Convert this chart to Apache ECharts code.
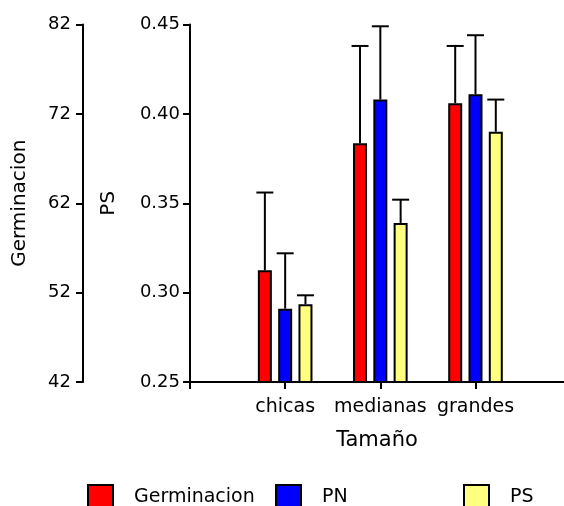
<!DOCTYPE html>
<html><head><meta charset="utf-8">
<script src="https://cdn.jsdelivr.net/npm/echarts@6/dist/echarts.min.js"></script>
<style>html,body{margin:0;padding:0;background:#fff}#c{width:564px;height:506px}</style>
</head><body><div id="c"></div>
<script>
var categories = ['chicas', 'medianas', 'grandes'];
var germinacion = [54.5, 68.7, 73.2];
var germinacionErr = [8.7, 10.9, 6.4];
var pn = [0.291, 0.408, 0.411];
var pnErr = [0.031, 0.041, 0.033];
var ps = [0.2935, 0.339, 0.390];
var psErr = [0.005, 0.013, 0.018];
var germTicks = [42, 52, 62, 72, 82];
var psTicks = [0.25, 0.30, 0.35, 0.40, 0.45];

var FONT = 'DejaVu Sans, Liberation Sans, Arial, sans-serif';
var BAR_W = 14, BAR_GAP = 0.45, CAP = 17;
var step = BAR_W * (1 + BAR_GAP);
var offsets = [-step, 0, step];

function pts(vals) { return vals.map(function (v, i) { return [i + 1, v]; }); }
function errData(vals, errs) { return vals.map(function (v, i) { return [i + 1, v, v + errs[i]]; }); }
function errSeries(vals, errs, yIdx, k) {
  return {
    type: 'custom', yAxisIndex: yIdx, z: 5, silent: true,
    data: errData(vals, errs),
    renderItem: function (params, api) {
      var p0 = api.coord([api.value(0), api.value(1)]);
      var p1 = api.coord([api.value(0), api.value(2)]);
      var x = p0[0] + offsets[k];
      var st = { stroke: '#000', lineWidth: 2 };
      return { type: 'group', children: [
        { type: 'line', shape: { x1: x, y1: p0[1], x2: x, y2: p1[1] }, style: st },
        { type: 'line', shape: { x1: x - CAP / 2, y1: p1[1], x2: x + CAP / 2, y2: p1[1] }, style: st }
      ]};
    }
  };
}
var axisLineStyle = { lineStyle: { color: '#000', width: 2 } };
var legendBase = function (name, left) {
  return { data: [name], left: left, top: 484, padding: 0, itemWidth: 25, itemHeight: 24, icon: 'rect',
    textStyle: { fontSize: 19, fontFamily: FONT, color: '#000', padding: [0, 0, 0, 16] } };
};
var chart = echarts.init(document.getElementById('c'));
chart.setOption({
  animation: false,
  textStyle: { fontFamily: FONT },
  grid: { left: 190, right: 0, top: 24.5, bottom: 124, containLabel: false },
  legend: [legendBase('Germinacion', 87), legendBase('PN', 275), legendBase('PS', 463)],
  xAxis: {
    type: 'value', min: 0, max: 3.93, interval: 1,
    name: 'Tamaño', nameLocation: 'middle', nameGap: 48,
    nameTextStyle: { fontSize: 21, color: '#000', fontFamily: FONT },
    axisLine: axisLineStyle, axisTick: { length: 7, lineStyle: { color: '#000', width: 2 } },
    splitLine: { show: false },
    axisLabel: { fontSize: 19, color: '#000', fontFamily: FONT, margin: 16, showMaxLabel: false,
      formatter: function (v) { return categories[Math.round(v) - 1] || ''; } }
  },
  yAxis: [
    { type: 'value', position: 'left', offset: 0, min: psTicks[0], max: psTicks[psTicks.length - 1], interval: 0.05,
      name: 'PS', nameLocation: 'middle', nameGap: 71, nameRotate: 90,
      nameTextStyle: { fontSize: 20, color: '#000', fontFamily: FONT },
      axisLine: { show: true, lineStyle: { color: '#000', width: 2 } },
      axisTick: { show: true, length: 7, lineStyle: { color: '#000', width: 2 } },
      splitLine: { show: false },
      axisLabel: { fontSize: 18, color: '#000', fontFamily: FONT, margin: 10, formatter: function (v) { return v.toFixed(2); } } },
    { type: 'value', position: 'left', offset: 107, min: germTicks[0], max: germTicks[germTicks.length - 1], interval: 10,
      name: 'Germinacion', nameLocation: 'middle', nameGap: 53, nameRotate: 90,
      nameTextStyle: { fontSize: 20, color: '#000', fontFamily: FONT },
      axisLine: { show: true, lineStyle: { color: '#000', width: 2 } },
      axisTick: { show: true, length: 7, lineStyle: { color: '#000', width: 2 } },
      splitLine: { show: false },
      axisLabel: { fontSize: 18, color: '#000', fontFamily: FONT, margin: 12 } }
  ],
  series: [
    { name: 'Germinacion', type: 'bar', yAxisIndex: 1, data: pts(germinacion), barWidth: BAR_W, barGap: (BAR_GAP * 100) + '%',
      itemStyle: { color: '#FF0000', borderColor: '#000', borderWidth: 2 } },
    { name: 'PN', type: 'bar', yAxisIndex: 0, data: pts(pn), barWidth: BAR_W, barGap: (BAR_GAP * 100) + '%',
      itemStyle: { color: '#0000FF', borderColor: '#000', borderWidth: 2 } },
    { name: 'PS', type: 'bar', yAxisIndex: 0, data: pts(ps), barWidth: BAR_W, barGap: (BAR_GAP * 100) + '%',
      itemStyle: { color: '#FFFF80', borderColor: '#000', borderWidth: 2 } },
    errSeries(germinacion, germinacionErr, 1, 0),
    errSeries(pn, pnErr, 0, 1),
    errSeries(ps, psErr, 0, 2)
  ]
});
</script></body></html>
